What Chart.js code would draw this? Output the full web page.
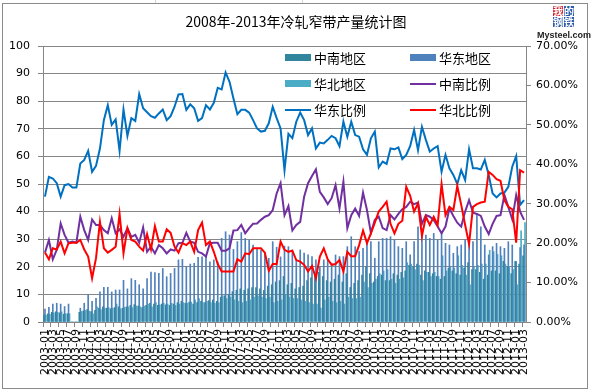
<!DOCTYPE html>
<html><head><meta charset="utf-8">
<script src="https://cdn.jsdelivr.net/npm/chart.js@4/dist/chart.umd.min.js"></script>
<style>html,body{margin:0;padding:0;background:#fff;}#wrap{position:relative;width:591px;height:392px;}canvas{display:block;}</style>
</head><body><div id="wrap"><canvas id="c" width="591" height="392"></canvas></div>
<script>
const categories = [
"2003-01","2003-02","2003-03","2003-04","2003-05","2003-06","2003-07","2003-08","2003-09","2003-10","2003-11","2003-12",
"2004-01","2004-02","2004-03","2004-04","2004-05","2004-06","2004-07","2004-08","2004-09","2004-10","2004-11","2004-12",
"2005-01","2005-02","2005-03","2005-04","2005-05","2005-06","2005-07","2005-08","2005-09","2005-10","2005-11","2005-12",
"2006-01","2006-02","2006-03","2006-04","2006-05","2006-06","2006-07","2006-08","2006-09","2006-10","2006-11","2006-12",
"2007-01","2007-02","2007-03","2007-04","2007-05","2007-06","2007-07","2007-08","2007-09","2007-10","2007-11","2007-12",
"2008-01","2008-02","2008-03","2008-04","2008-05","2008-06","2008-07","2008-08","2008-09","2008-10","2008-11","2008-12",
"2009-01","2009-02","2009-03","2009-04","2009-05","2009-06","2009-07","2009-08","2009-09","2009-10","2009-11","2009-12",
"2010-01","2010-02","2010-03","2010-04","2010-05","2010-06","2010-07","2010-08","2010-09","2010-10","2010-11","2010-12",
"2011-01","2011-02","2011-03","2011-04","2011-05","2011-06","2011-07","2011-08","2011-09","2011-10","2011-11","2011-12",
"2012-01","2012-02","2012-03","2012-04","2012-05","2012-06","2012-07","2012-08","2012-09","2012-10","2012-11","2012-12",
"2013-01","2013-02","2013-03"];

// production (left axis)
const zhongnanOutput = [
2.5,3.0,3.5,3.7,3.3,2.8,3.0,0,0,
3.5,4.0,4.5,3.8,4.2,5.0,5.5,5.0,4.8,5.2,5.5,5.0,
5.5,6.0,6.3,5.8,5.2,6.0,6.8,6.5,6.0,6.5,6.2,6.0,
6.5,7.0,7.5,6.8,7.2,6.5,7.0,7.5,7.0,7.8,8.0,7.5,
9.0,9.5,10.0,11.0,11.5,12.0,11.5,12.0,12.5,12.5,12.0,11.5,
13.0,13.5,14.5,15.0,16.5,13.5,14.0,12.0,12.5,13.0,15.0,16.0,
17.5,18.0,16.5,15.0,14.5,15.5,17.0,14.5,17.5,12.5,14.0,15.0,
17.0,20.0,17.5,14.5,16.5,17.0,15.0,15.0,17.5,17.0,18.0,18.5,
20.5,20.0,21.0,17.0,18.5,18.0,17.5,16.5,15.5,16.5,19.5,18.5,
17.5,17.0,19.5,21.5,19.0,19.0,18.0,15.5,17.0,18.5,18.5,17.5,
22.0,20.0,17.5,22.0,21.0,24.0];
const huadongOutput = [
4.7,5.3,6.5,6.8,6.5,5.6,6.5,0,0,
5.0,6.8,9.8,7.5,8.6,10.9,12.6,12.6,10.9,11.6,11.6,15.1,
12.0,15.7,15.1,13.5,12.0,15.7,18.1,17.9,17.6,19.4,16.4,17.6,
19.4,22.5,22.7,20.1,21.0,21.3,23.4,23.6,24.2,21.8,22.5,21.8,
30.3,32.7,31.5,26.3,29.1,32.4,30.3,29.7,27.9,26.7,26.1,24.9,
23.1,29.1,27.1,23.6,27.5,27.3,26.1,22.5,26.1,25.0,24.3,23.7,
22.5,20.1,22.5,22.5,21.3,24.3,23.7,23.7,27.3,30.9,27.3,25.5,
26.7,28.5,29.1,23.1,29.1,30.3,30.3,30.9,29.7,27.3,26.7,29.1,
24.3,29.1,34.5,33.9,31.5,30.3,32.1,29.7,32.4,28.5,27.9,24.9,
27.3,27.9,29.7,29.7,29.1,39.1,34.5,27.9,24.3,27.3,28.5,27.3,
26.7,29.1,27.9,21.9,27.0,28.0];
const huabeiOutput = [
2.5,2.8,3.3,3.5,3.7,3.0,3.0,0,0,
3.8,4.2,4.0,3.0,5.5,4.5,5.0,5.2,5.0,6.5,4.8,5.3,
5.5,5.2,5.8,5.5,5.8,6.5,5.5,7.0,6.2,6.8,6.5,6.8,
6.0,6.5,7.0,6.8,7.2,8.0,8.5,7.0,7.5,7.0,6.8,7.0,
9.5,8.5,9.0,8.0,7.5,7.0,7.5,8.0,9.0,9.5,9.0,8.5,
9.0,7.0,7.5,8.0,10.0,9.0,8.5,8.5,8.0,7.5,7.0,6.5,
6.5,5.0,8.0,9.0,7.5,7.0,7.5,6.5,9.0,8.5,8.5,9.0,
14.5,12.5,14.0,15.5,17.5,18.5,19.0,15.5,14.0,15.5,16.0,21.5,
21.0,19.0,20.5,15.0,18.0,16.5,18.0,16.5,24.0,18.5,20.0,19.5,
24.0,20.5,17.0,13.5,20.0,20.5,21.0,21.0,26.0,25.5,24.5,24.0,
21.0,20.0,19.0,13.5,33.0,36.0];

// share (right axis, %)
const zhongnanShare = [
17.6,20.8,15.9,18.3,25.0,22.1,20.1,20.4,20.1,26.7,23.3,20.8,26.0,24.6,24.6,23.3,22.5,26.3,22.5,23.5,
21.6,23.8,21.6,22.1,20.1,24.0,17.8,19.1,17.4,19.5,18.7,17.4,18.4,18.1,20.0,20.1,22.6,20.4,20.1,17.8,
17.4,16.6,20.0,20.1,20.1,18.1,18.1,18.7,23.2,23.3,24.6,22.5,23.8,24.9,25.0,25.9,26.7,27.1,28.4,32.6,
35.2,
27.1,29.4,23.2,24.6,25.4,31.8,35.2,37.0,38.7,33.0,31.6,29.9,31.4,34.7,28.8,35.6,23.8,27.1,28.8,26.9,
32.8,28.4,22.6,25.9,26.7,23.8,23.3,27.1,26.0,27.4,28.6,29.2,30.5,29.9,30.3,24.9,27.1,26.7,25.9,24.2,
22.5,24.2,28.8,26.9,25.2,24.2,28.0,30.9,27.7,27.4,26.9,24.2,22.3,24.9,26.9,27.1,32.2,29.2,26.0,32.2,
28.0,25.9];
const huadongShare = [
31.8,36.8,36.4,35.2,31.8,34.7,35.0,34.1,34.1,40.2,41.1,43.4,38.1,39.6,44.0,51.2,55.0,50.0,51.4,43.4,
53.9,47.2,51.7,51.0,57.8,54.2,53.2,52.2,51.8,52.9,53.9,51.2,52.2,54.6,57.7,57.8,53.8,55.2,54.2,51.0,
51.7,55.0,53.9,55.6,59.4,59.0,63.3,60.9,56.7,52.7,53.8,53.8,53.1,51.2,49.1,48.3,48.5,50.4,54.6,51.7,
49.1,38.5,
47.7,46.6,50.8,53.1,51.2,47.4,49.1,44.0,45.5,45.3,46.2,47.2,46.6,44.6,50.8,47.0,50.8,47.4,47.0,43.8,
42.4,46.6,48.3,39.2,40.7,40.1,44.0,43.8,44.3,41.3,42.4,44.6,48.7,43.6,49.5,46.2,43.2,44.0,44.6,38.1,
42.4,39.0,37.3,35.0,38.5,36.0,43.8,39.0,39.0,38.7,41.1,37.3,32.6,31.6,32.6,32.8,34.3,39.4,42.1,29.7,
30.9];
const huabeiShare = [
17.6,15.9,18.7,18.4,20.4,17.4,20.0,20.1,20.1,20.8,18.4,16.6,11.1,16.2,25.4,18.7,17.6,18.3,19.1,27.4,
17.4,23.8,20.8,20.4,19.1,18.1,22.3,18.4,24.3,20.4,20.4,23.5,22.6,19.1,17.6,20.0,19.5,20.4,17.8,23.3,
25.2,19.5,20.4,17.8,14.7,12.8,12.8,12.8,12.8,15.9,15.3,17.4,17.2,18.7,18.7,18.7,17.6,13.0,14.7,14.7,
20.4,
18.3,17.8,18.1,15.7,15.3,14.5,12.8,14.2,11.1,16.6,18.7,15.9,14.5,14.7,15.7,12.8,17.8,16.7,16.7,19.5,
23.2,20.0,22.5,25.2,28.0,29.2,30.5,24.9,22.5,24.9,25.7,34.3,32.0,28.0,30.1,21.8,26.7,24.6,26.7,24.6,
35.0,27.1,29.2,28.4,34.5,29.7,24.6,19.8,29.2,29.9,30.3,30.5,38.1,37.3,36.2,35.8,30.9,29.2,28.6,20.1,
38.5,37.9];

const leftTicks = [0,10,20,30,40,50,60,70,80,90,100];
const rightTicks = [0,10,20,30,40,50,60,70];

const titleText = "2008年-2013年冷轧窄带产量统计图";
const seriesNames = ["中南地区","华东地区","华北地区","中南比例","华东比例","华北比例"];
const colors = ["#31859C","#4F81BD","#4BACC6","#7030A0","#0070C0","#FF0000"];

const AXIS_FONT = {family:"'DejaVu Sans'", size:11};
const CJK = "'Noto Sans CJK SC'";

const decor = {
  id:'decor',
  beforeDraw(chart){
    const c = chart.ctx;
    c.save();
    c.fillStyle='#fff'; c.fillRect(0,0,chart.width,chart.height);
    c.strokeStyle='#d4d4d4'; c.lineWidth=1;
    c.beginPath(); c.moveTo(155.5,0); c.lineTo(155.5,3); c.moveTo(302.5,0); c.lineTo(302.5,3); c.stroke();
    c.strokeStyle='#8a8a8a';
    c.strokeRect(2.5,3.5,585,385);
    c.restore();
  },
  afterDraw(chart){
    const c = chart.ctx;
    c.save();
    c.fillStyle='#000';
    c.font = "14px "+CJK;
    c.textAlign='center'; c.textBaseline='middle';
    c.fillText(titleText, 296, 22);
    // legend
    const items = [
      {t:seriesNames[0],type:'bar',col:colors[0],x:285,y:58},
      {t:seriesNames[1],type:'bar',col:colors[1],x:410,y:58},
      {t:seriesNames[2],type:'bar',col:colors[2],x:285,y:84},
      {t:seriesNames[3],type:'line',col:colors[3],x:410,y:84},
      {t:seriesNames[4],type:'line',col:colors[4],x:285,y:110},
      {t:seriesNames[5],type:'line',col:colors[5],x:410,y:110}
    ];
    c.font = "13px "+CJK;
    c.textAlign='left';
    items.forEach(it=>{
      if(it.type==='bar'){ c.fillStyle=it.col; c.fillRect(it.x,it.y-4,26,7); }
      else { c.strokeStyle=it.col; c.lineWidth=2; c.beginPath(); c.moveTo(it.x,it.y); c.lineTo(it.x+26,it.y); c.stroke(); }
      c.fillStyle='#000';
      c.fillText(it.t, it.x+29, it.y);
    });
    // logo
    const lx=553, ly=6, s=11;
    const cells=[["我","#d3202a",0,0],["的","#2d5da8",1,0],["钢","#2d5da8",0,1],["铁","#2d5da8",1,1]];
    c.font = "bold 10px "+CJK; c.textAlign='center';
    cells.forEach(([ch,bg,cx,cy])=>{
      c.fillStyle=bg; c.fillRect(lx+cx*s, ly+cy*s, s-1, s-1);
      c.fillStyle='#fff'; c.fillText(ch, lx+cx*s+5, ly+cy*s+5.5);
    });
    c.fillStyle='#222'; c.font="bold 9px 'Liberation Sans'";
    c.fillText("Mysteel.com", 564, 36);
    c.restore();
  }
};

const barCommon = {type:'bar', yAxisID:'y', order:10, barThickness:1, grouped:true};
const lineCommon = {type:'line', yAxisID:'y1', pointRadius:0, borderWidth:2, tension:0, fill:false};

new Chart(document.getElementById('c'), {
  data:{
    labels: categories,
    datasets:[
      Object.assign({label:seriesNames[0], data:zhongnanOutput, backgroundColor:colors[0]}, barCommon),
      Object.assign({label:seriesNames[1], data:huadongOutput, backgroundColor:colors[1]}, barCommon),
      Object.assign({label:seriesNames[2], data:huabeiOutput, backgroundColor:colors[2]}, barCommon),
      Object.assign({label:seriesNames[3], data:zhongnanShare, borderColor:colors[3], order:3}, lineCommon),
      Object.assign({label:seriesNames[4], data:huadongShare, borderColor:colors[4], order:2}, lineCommon),
      Object.assign({label:seriesNames[5], data:huabeiShare, borderColor:colors[5], order:1}, lineCommon)
    ]
  },
  options:{
    responsive:false, animation:false,
    layout:{padding:{top:46,left:0,right:0,bottom:0}},
    plugins:{legend:{display:false}, tooltip:{enabled:false}, title:{display:false}},
    scales:{
      x:{
        offset:true,
        afterFit(s){ s.height = 70; },
        grid:{drawOnChartArea:false, drawTicks:true, tickLength:5, offset:true,
              color:(ctx)=> (ctx.index%2===0 ? '#868686' : 'rgba(0,0,0,0)')},
        border:{color:'#868686'},
        ticks:{autoSkip:false, maxRotation:90, minRotation:90, padding:2, color:'#000', font:AXIS_FONT,
               callback(v,i){ return i%2===0 ? categories[i] : ''; }}
      },
      y:{
        position:'left', min:0, max:100,
        afterFit(s){ s.width = 43; },
        afterBuildTicks(s){ s.ticks = leftTicks.map(v=>({value:v})); },
        grid:{color:'#868686', tickLength:5},
        border:{color:'#868686'},
        ticks:{color:'#000', font:AXIS_FONT, padding:8}
      },
      y1:{
        position:'right', min:0, max:70,
        afterFit(s){ s.width = 65; },
        afterBuildTicks(s){ s.ticks = rightTicks.map(v=>({value:v})); },
        grid:{drawOnChartArea:false, color:'#868686', tickLength:5},
        border:{color:'#868686'},
        ticks:{color:'#000', font:AXIS_FONT, padding:5, callback:(v)=>v.toFixed(2)+'%'}
      }
    }
  },
  plugins:[decor]
});
</script>
</body></html>
